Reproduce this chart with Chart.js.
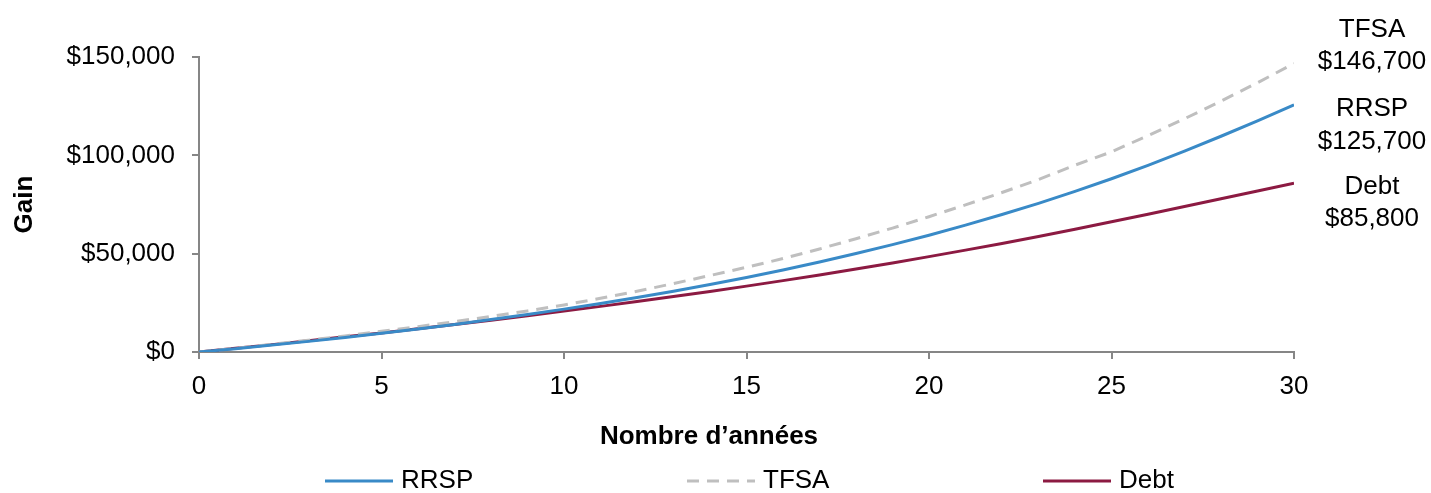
<!DOCTYPE html>
<html>
<head>
<meta charset="utf-8">
<script src="https://cdn.jsdelivr.net/npm/chart.js@4/dist/chart.umd.min.js"></script>
<style>
  html, body { margin: 0; padding: 0; background: #fff; }
  #wrap { width: 1431px; height: 493px; position: relative; }
</style>
</head>
<body>
<div id="wrap"><canvas id="gain-chart"></canvas></div>
<script>
// Data
var years = [0, 1, 2, 3, 4, 5, 6, 7, 8, 9, 10, 11, 12, 13, 14, 15, 16, 17, 18, 19, 20, 21, 22, 23, 24, 25, 26, 27, 28, 29, 30];
var rrsp = [0, 1700, 3500, 5400, 7400, 9500, 11700, 14000, 16500, 19100, 21800, 24700, 27700, 30900, 34300, 37900,
  41700, 45800, 50100, 54600, 59400, 64500, 69900, 75600, 81700, 88100, 94900, 102100, 109700, 117500, 125700];
var tfsa = [0, 1900, 3900, 6000, 8200, 10500, 12900, 15400, 18100, 20900, 23900, 27300, 30900, 34800, 38900, 43100,
  47500, 52400, 57600, 63000, 68800, 74800, 81100, 87700, 95000, 101800, 110000, 118600, 127600, 136900, 146700];
var debt = [0, 1850, 3750, 5700, 7700, 9700, 11800, 13950, 16150, 18450, 20800, 23200, 25650, 28200, 30800, 33500,
  36300, 39200, 42200, 45300, 48500, 51800, 55200, 58750, 62400, 66200, 70050, 73950, 77900, 81850, 85800];
var seriesNames = ['RRSP', 'TFSA', 'Debt'];
var endLabels = ['$125,700', '$146,700', '$85,800'];
var xTicks = [0, 5, 10, 15, 20, 25, 30];
var yTicks = [0, 50000, 100000, 150000];
var xTitle = 'Nombre d\u2019années';

var colorRRSP = 'rgb(57,138,199)';
var colorTFSA = 'rgb(191,191,191)';
var colorDebt = 'rgb(140,26,66)';
var axisGrey = '#868686';
var fontFamily = '"Liberation Sans", Arial, sans-serif';

function pts(arr) {
  return years.map(function (y, i) { return { x: y, y: arr[i] }; });
}

function money(v) {
  return '$' + v.toLocaleString('en-US');
}

// labels at the right end of each line, offsets in px from the end point
var endLabelPlugin = {
  id: 'endLabels',
  afterDatasetsDraw: function (chart) {
    var ctx = chart.ctx;
    var offsets = [[4, 37], [-34, -2], [4, 36]];
    ctx.save();
    ctx.font = '26px ' + fontFamily;
    ctx.fillStyle = '#000';
    ctx.textAlign = 'center';
    ctx.textBaseline = 'middle';
    chart.data.datasets.forEach(function (ds, i) {
      var meta = chart.getDatasetMeta(i);
      var last = meta.data[meta.data.length - 1];
      ctx.fillText(ds.label, last.x + 78, last.y + offsets[i][0]);
      ctx.fillText(endLabels[i], last.x + 78, last.y + offsets[i][1]);
    });
    ctx.restore();
  }
};

// x title + wide spaced legend along the bottom
var legendPlugin = {
  id: 'wideLegend',
  afterDraw: function (chart) {
    var ctx = chart.ctx;
    var starts = [325, 687, 1043];
    var y = 481;
    ctx.save();
    ctx.fillStyle = '#000';
    ctx.font = 'bold 26px ' + fontFamily;
    ctx.textAlign = 'center';
    ctx.textBaseline = 'middle';
    ctx.fillText(xTitle, 709, 437);

    ctx.font = '26px ' + fontFamily;
    ctx.textAlign = 'left';
    chart.data.datasets.forEach(function (ds, i) {
      ctx.beginPath();
      ctx.strokeStyle = ds.borderColor;
      ctx.lineWidth = 3;
      ctx.setLineDash(ds.borderDash || []);
      ctx.moveTo(starts[i], y);
      ctx.lineTo(starts[i] + 68, y);
      ctx.stroke();
      ctx.setLineDash([]);
      ctx.fillText(ds.label, starts[i] + 76, y);
    });
    ctx.restore();
  }
};

var chart = new Chart(document.getElementById('gain-chart'), {
  type: 'line',
  data: {
    datasets: [{
      label: seriesNames[0],
      data: pts(rrsp),
      borderColor: colorRRSP,
      borderWidth: 3,
      pointRadius: 0,
      tension: 0
    }, {
      label: seriesNames[1],
      data: pts(tfsa),
      borderColor: colorTFSA,
      borderWidth: 3,
      borderDash: [12, 8],
      pointRadius: 0,
      tension: 0
    }, {
      label: seriesNames[2],
      data: pts(debt),
      borderColor: colorDebt,
      borderWidth: 3,
      pointRadius: 0,
      tension: 0
    }]
  },
  options: {
    responsive: true,
    maintainAspectRatio: false,
    animation: false,
    layout: { padding: { left: 0, right: 137, top: 57, bottom: 31 } },
    plugins: {
      legend: { display: false },
      tooltip: { enabled: false }
    },
    scales: {
      x: {
        type: 'linear',
        min: 0,
        max: 30,
        afterBuildTicks: function (scale) {
          scale.ticks = xTicks.map(function (v) { return { value: v }; });
        },
        afterFit: function (scale) { scale.height = 110; },
        grid: { drawOnChartArea: false, drawTicks: true, tickLength: 7, color: axisGrey, lineWidth: 2 },
        border: { color: axisGrey, width: 2 },
        ticks: { color: '#000', font: { family: fontFamily, size: 26 }, padding: 12, maxRotation: 0 }
      },
      y: {
        min: 0,
        max: 150000,
        afterBuildTicks: function (scale) {
          scale.ticks = yTicks.map(function (v) { return { value: v }; });
        },
        afterFit: function (scale) { scale.width = 199; },
        grid: { drawOnChartArea: false, drawTicks: true, tickLength: 7, color: axisGrey, lineWidth: 2 },
        border: { color: axisGrey, width: 2 },
        ticks: {
          color: '#000',
          font: { family: fontFamily, size: 26 },
          padding: 17,
          callback: function (v) { return money(v); }
        },
        title: {
          display: true,
          text: 'Gain',
          color: '#000',
          font: { family: fontFamily, size: 26, weight: 'bold' },
          padding: { top: 9, bottom: 0 }
        }
      }
    }
  },
  plugins: [endLabelPlugin, legendPlugin]
});
</script>
</body>
</html>
